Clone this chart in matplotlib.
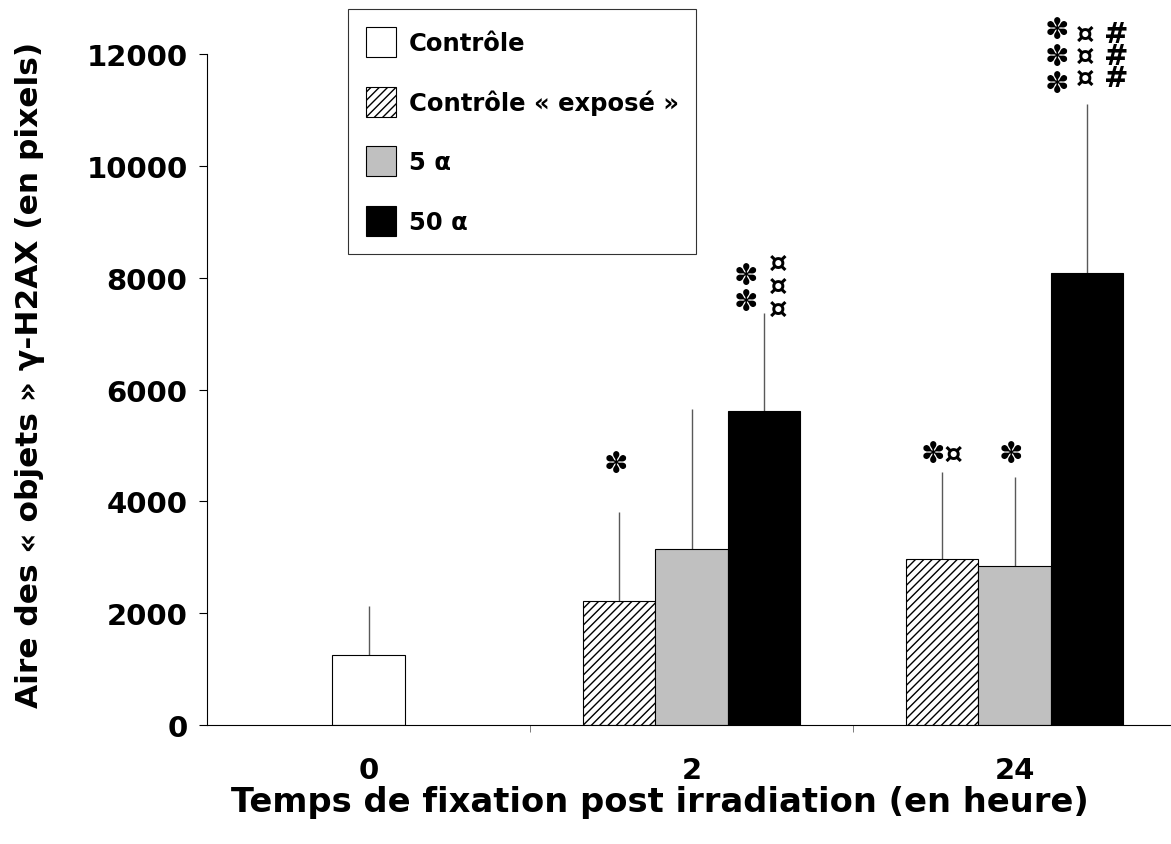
import matplotlib
matplotlib.use("Agg")
import matplotlib.pyplot as plt
import numpy as np
from matplotlib.patches import Patch

plt.rcParams['font.family'] = ['DejaVu Sans']
plt.rcParams['font.weight'] = 'bold'
plt.rcParams['hatch.linewidth'] = 1.0

# Data
groups = ['0', '2', '24']
series = ['Contrôle', 'Contrôle « exposé »', '5 α', '50 α']
controle = [1250, np.nan, np.nan]
controle_err = [880, np.nan, np.nan]
expose = [np.nan, 2220, 2970]
expose_err = [np.nan, 1590, 1555]
cinq_alpha = [np.nan, 3150, 2840]
cinq_alpha_err = [np.nan, 2500, 1595]
cinquante_alpha = [np.nan, 5610, 8080]
cinquante_alpha_err = [np.nan, 1760, 3030]

values = [controle, expose, cinq_alpha, cinquante_alpha]
errors = [controle_err, expose_err, cinq_alpha_err, cinquante_alpha_err]

# significance marks, stacked columns above the error bars:
# (series index, group index, text, dx px, dy px of column centre, row step px)
marks = [
    (1, 1, '✽', -3, 48, 0),
    (3, 1, '✽\n✽', -17, 24, 26),
    (3, 1, '¤\n¤\n¤', 15, 27, 22.5),
    (1, 2, '✽¤', 0, 18, 0),
    (2, 2, '✽', -3, 23, 0),
    (3, 2, '✽\n✽\n✽', -29, 47, 27.5),
    (3, 2, '¤\n¤\n¤', -1, 48, 21),
    (3, 2, '#\n#\n#', 30, 48, 21),
]
mark_fs = 21

faces = ['white', 'white', '#c0c0c0', 'black']
hatches = [None, '////', None, None]
width = 0.223

fig = plt.figure(figsize=(11.71, 8.45), dpi=100)
ax = fig.add_axes([207 / 1171, 1 - 726 / 845, 964 / 1171, 671 / 845])

centers = {}
for g in range(len(groups)):
    present = [s for s in range(len(series)) if not np.isnan(values[s][g])]
    n = len(present)
    for k, s in enumerate(present):
        xc = g + (k - (n - 1) / 2) * width
        centers[(s, g)] = xc
        ax.bar(xc, values[s][g], width, color=faces[s], hatch=hatches[s],
               edgecolor='black', linewidth=0.8, zorder=2)
        ax.vlines(xc, values[s][g], values[s][g] + errors[s][g],
                  color='0.35', linewidth=1.0, zorder=1)

line_px = 1.0 * mark_fs * 100 / 72
for s, g, txt, dx, dy, step in marks:
    xc = centers[(s, g)]
    top = values[s][g] + errors[s][g]
    ls = step / line_px if step else 1.0
    ax.annotate(txt, xy=(xc, top), xytext=(dx * 0.72, dy * 0.72),
                textcoords='offset points', ha='center', va='center',
                multialignment='center', linespacing=ls,
                fontsize=mark_fs, fontweight='bold', annotation_clip=False)

ax.set_xlim(-0.5, 2.5 - 5 / 323)
ax.set_ylim(0, 12000)
ax.set_yticks(np.arange(0, 12001, 2000))
ax.set_yticklabels([str(v) for v in range(0, 12001, 2000)], fontsize=21, fontweight='bold')
ax.set_xticks(range(len(groups)))
ax.set_xticklabels(groups, fontsize=21, fontweight='bold')
ax.set_xticks([0.5, 1.5], minor=True)
ax.tick_params(axis='x', which='major', length=0, pad=22)
ax.tick_params(axis='x', which='minor', length=5, direction='out', color='0.4')
ax.tick_params(axis='y', length=6, direction='out', pad=8)

for side in ['top', 'right']:
    ax.spines[side].set_visible(False)
ax.spines['left'].set_linewidth(0.8)
ax.spines['bottom'].set_linewidth(0.8)

fig.text(30 / 1171, 1 - 375 / 845, 'Aire des « objets » γ-H2AX (en pixels)',
         rotation=90, ha='center', va='center', fontsize=22.5, fontweight='bold')
fig.text(660 / 1171, 1 - 803 / 845, 'Temps de fixation post irradiation (en heure)',
         ha='center', va='center', fontsize=24.3, fontweight='bold')

handles = [Patch(facecolor=faces[s], edgecolor='black', hatch=hatches[s], linewidth=0.8)
           for s in range(len(series))]
leg = fig.legend(handles, series, loc='upper left',
                 bbox_to_anchor=(348 / 1171, 1 - 10 / 845),
                 prop={'weight': 'bold', 'size': 17.5},
                 handlelength=1.23, handleheight=1.52, labelspacing=1.23,
                 handletextpad=0.53, borderpad=0.73, borderaxespad=0,
                 fancybox=False, frameon=True)
leg.get_frame().set_edgecolor('black')
leg.get_frame().set_linewidth(0.8)

fig.savefig('out.png', dpi=100)
